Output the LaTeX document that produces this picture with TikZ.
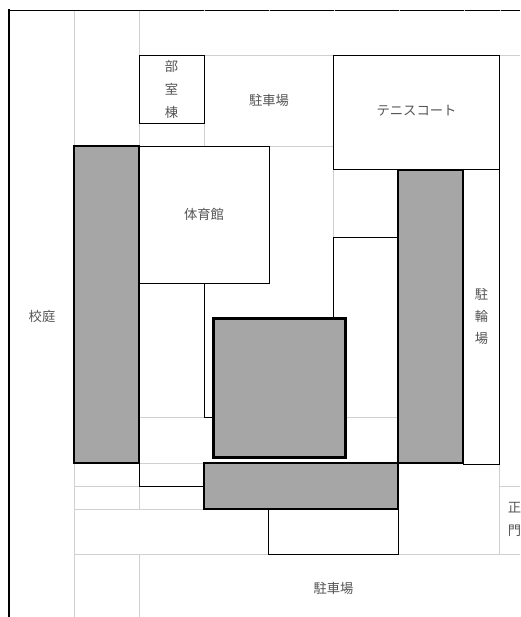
\documentclass[tikz,border=0pt]{standalone}
\usepackage{fontspec}
\newfontfamily\jp{Noto Sans CJK JP}
\definecolor{gridc}{RGB}{208,208,208}
\definecolor{fillc}{RGB}{166,166,166}
\definecolor{textc}{RGB}{85,85,85}
\tikzset{
  gridline/.style={draw=gridc,line width=0.9pt},
  thinblack/.style={draw=black,line width=1pt},
  bldg/.style={draw=black,line width=2pt,fill=fillc},
  lab/.style={inner sep=0pt,text=textc,font=\jp\fontsize{13.3}{15}\selectfont},
}
\begin{document}
\begin{tikzpicture}[x=1pt,y=-1pt]
\useasboundingbox (0,0) rectangle (520,617);
\clip (0,0) rectangle (520,617);
\fill[white] (0,0) rectangle (520,617);
% light grid
\draw[gridline] (74.5,10) -- (74.5,146);
\draw[gridline] (139.5,10) -- (139.5,146);
\draw[gridline] (204.5,123) -- (204.5,146);
\draw[gridline] (204,55.5) -- (334,55.5);
\draw[gridline] (499,55.5) -- (520,55.5);
\draw[gridline] (269,146.5) -- (334,146.5);
\draw[gridline] (333.5,170) -- (333.5,238);
\draw[gridline] (139,417.5) -- (204,417.5);
\draw[gridline] (345,417.5) -- (398,417.5);
\draw[gridline] (74,463.5) -- (204,463.5);
\draw[gridline] (74,486.5) -- (139,486.5);
\draw[gridline] (74,509.5) -- (204,509.5);
\draw[gridline] (74.5,463) -- (74.5,617);
\draw[gridline] (139.5,486) -- (139.5,510);
\draw[gridline] (139.5,555) -- (139.5,617);
\draw[gridline] (74,554.5) -- (269,554.5);
\draw[gridline] (399,554.5) -- (520,554.5);
\draw[gridline] (499.5,464) -- (499.5,555);
\draw[gridline] (499.5,486.5) -- (520,486.5);
% outer border
\draw[black,line width=1pt] (9,10.5) -- (520,10.5);
\draw[black,line width=2pt] (9,9.5) -- (9,617);
\foreach \tx in {204.5,269.5,334.5,399.5,464,500}
  \draw[gridc,line width=0.9pt] (\tx,9.8) -- (\tx,11.2);
% outlined areas
\draw[thinblack] (139.5,55.5) rectangle (204.5,123.5);
\draw[thinblack] (139,146.5) rectangle (269,283);
\draw[thinblack] (333.5,55.5) rectangle (499.5,170);
\draw[thinblack] (463.5,170) rectangle (499.5,464);
\draw[thinblack] (204.5,283) -- (204.5,417.5) -- (213,417.5);
\draw[thinblack] (333.5,318) -- (333.5,237.5) -- (398,237.5);
\draw[thinblack] (139.5,463) -- (139.5,486.5) -- (204,486.5);
\draw[thinblack] (268.5,509) -- (268.5,554.5) -- (398.5,554.5) -- (398.5,509);
% grey buildings
\draw[bldg] (74,146) rectangle (139,463);
\draw[bldg] (398,170) rectangle (463,463);
\draw[bldg] (204,463) rectangle (398,509);
\draw[bldg,line width=3pt] (213,318.5) rectangle (345,457);
% labels
\node[lab] (bu1) at (171.5,66.5) {部};
\node[lab] (bu2) at (171.5,89.5) {室};
\node[lab] (bu3) at (171.5,112) {棟};
\node[lab] (park1) at (269,100.5) {駐車場};
\node[lab] (tennis) at (416.5,110.5) {テニスコート};
\node[lab] (gym) at (204,214) {体育館};
\node[lab] (yard) at (42,316) {校庭};
\node[lab] (bike1) at (481.5,294) {駐};
\node[lab] (bike2) at (481.5,316) {輪};
\node[lab] (bike3) at (481.5,339) {場};
\node[lab] (gate1) at (514.5,508) {正};
\node[lab] (gate2) at (514.5,531) {門};
\node[lab] (park2) at (333.5,588) {駐車場};
\end{tikzpicture}
\end{document}
